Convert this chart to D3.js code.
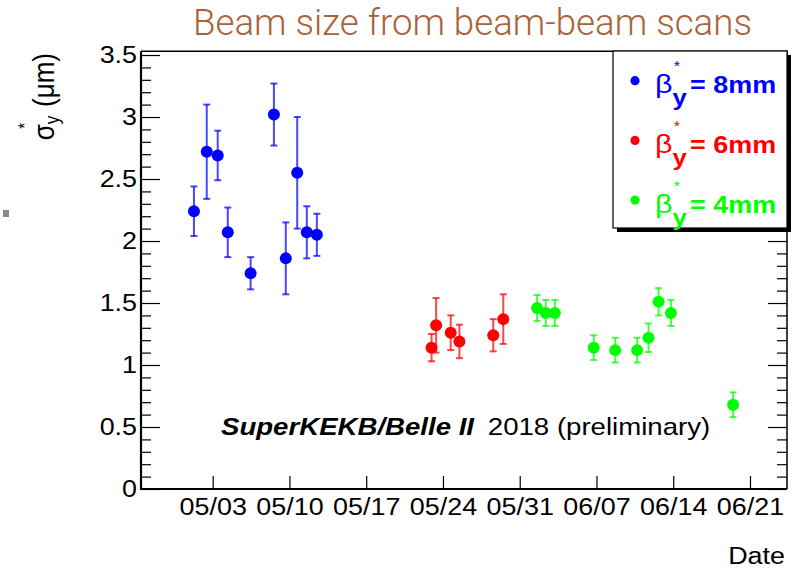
<!DOCTYPE html>
<html>
<head>
<meta charset="utf-8">
<script src="https://cdn.jsdelivr.net/npm/d3@7"></script>
<style>
  body { margin: 0; background: #fff; }
  svg { display: block; }
</style>
</head>
<body>
<svg id="chart" width="799" height="570"></svg>
<script>
// ---- data ---------------------------------------------------------------
const xTickLabels = ["05/03", "05/10", "05/17", "05/24", "05/31", "06/07", "06/14", "06/21"];
const yTickValues = [0, 0.5, 1, 1.5, 2, 2.5, 3, 3.5];
const yTickLabels = ["0", "0.5", "1", "1.5", "2", "2.5", "3", "3.5"];

// beta_y* = 8 mm
const blueDates = ["2018-05-01T07:00", "2018-05-02T11:00", "2018-05-03T11:00", "2018-05-04T09:00",
                   "2018-05-06T11:00", "2018-05-08T14:00", "2018-05-09T16:00", "2018-05-10T17:00",
                   "2018-05-11T14:00", "2018-05-12T12:00"];
const blueValues = [2.24, 2.72, 2.69, 2.07, 1.74, 3.02, 1.86, 2.55, 2.07, 2.05];
const blueErrors = [0.20, 0.38, 0.20, 0.20, 0.13, 0.25, 0.29, 0.45, 0.21, 0.17];

// beta_y* = 6 mm
const redDates = ["2018-05-22T23:00", "2018-05-23T09:00", "2018-05-24T17:00", "2018-05-25T12:00",
                  "2018-05-28T14:00", "2018-05-29T12:00"];
const redValues = [1.14, 1.32, 1.26, 1.19, 1.24, 1.37];
const redErrors = [0.11, 0.22, 0.14, 0.135, 0.13, 0.20];

// beta_y* = 4 mm
const greenDates = ["2018-06-01T14:00", "2018-06-02T09:00", "2018-06-03T05:00", "2018-06-06T18:00",
                    "2018-06-08T17:00", "2018-06-10T17:00", "2018-06-11T18:00", "2018-06-12T16:00",
                    "2018-06-13T19:00", "2018-06-19T11:00"];
const greenValues = [1.46, 1.42, 1.42, 1.14, 1.12, 1.12, 1.22, 1.51, 1.42, 0.68];
const greenErrors = [0.105, 0.105, 0.105, 0.10, 0.10, 0.10, 0.115, 0.11, 0.105, 0.10];

const seriesLabels = ["8mm", "6mm", "4mm"];
const seriesColors = ["#0000ff", "#ff0000", "#00ff00"];

// ---- layout -------------------------------------------------------------
const svg = d3.select("#chart");
const frame = { left: 141, right: 787, top: 51.3, bottom: 489 };
const stretch = 1.17;               // horizontal widening of the plot lettering
const font = "'Liberation Sans', Arial, Helvetica, sans-serif";

const parseT = d3.utcParse("%Y-%m-%dT%H:%M");
const x = d3.scaleUtc()
  .domain([parseT("2018-04-26T11:05"), parseT("2018-06-24T09:00")])
  .range([frame.left, frame.right]);
const y = d3.scaleLinear().domain([0, 3.53]).range([frame.bottom, frame.top]);

const series = [
  { dates: blueDates, values: blueValues, errors: blueErrors },
  { dates: redDates, values: redValues, errors: redErrors },
  { dates: greenDates, values: greenValues, errors: greenErrors }
].map((s, i) => ({
  label: seriesLabels[i],
  color: seriesColors[i],
  points: s.dates.map((d, j) => ({ t: parseT(d), v: s.values[j], e: s.errors[j] }))
}));

// ---- title --------------------------------------------------------------
svg.append("text")
  .attr("x", 193).attr("y", 35)
  .attr("font-family", "Roboto, 'Open Sans', sans-serif")
  .attr("font-weight", 300)
  .attr("font-size", 36)
  .attr("fill", "#a8633a")
  .attr("textLength", 559)
  .attr("lengthAdjust", "spacingAndGlyphs")
  .text("Beam size from beam-beam scans");

// small grey marker at the left margin
svg.append("rect").attr("x", 3).attr("y", 210).attr("width", 6).attr("height", 7).attr("fill", "#8a8a8a");

// ---- axes ---------------------------------------------------------------
const xTickValues = xTickLabels.map(s => parseT("2018-" + s.replace("/", "-") + "T00:00"));
const yMinor = d3.range(0, 3.5001, 0.1).filter(v => Math.abs(v * 2 - Math.round(v * 2)) > 1e-6);

function styleAxis(g) {
  g.select(".domain").remove();
  g.selectAll(".tick line").attr("stroke", "#000").attr("stroke-width", 1.2);
  g.selectAll("text")
    .attr("font-family", font).attr("font-size", 23).attr("fill", "#000")
    .attr("transform", `scale(${stretch},1)`);
}

// bottom axis
svg.append("g").attr("transform", `translate(0,${frame.bottom})`)
  .call(d3.axisBottom(x).tickValues(xTickValues).tickFormat((d, i) => xTickLabels[i])
    .tickSizeInner(-13).tickSizeOuter(0).tickPadding(10))
  .call(styleAxis)
  .selectAll("text").attr("x", 0);

// left axis, major + minor
svg.append("g").attr("transform", `translate(${frame.left},0)`)
  .call(d3.axisLeft(y).tickValues(yTickValues).tickFormat((d, i) => yTickLabels[i])
    .tickSizeInner(-19).tickSizeOuter(0).tickPadding(3.4))
  .call(styleAxis);
svg.append("g").attr("transform", `translate(${frame.left},0)`)
  .call(d3.axisLeft(y).tickValues(yMinor).tickFormat("").tickSizeInner(-10).tickSizeOuter(0))
  .call(styleAxis);

// right axis ticks (no labels)
svg.append("g").attr("transform", `translate(${frame.right},0)`)
  .call(d3.axisRight(y).tickValues(yTickValues).tickFormat("").tickSizeInner(-19).tickSizeOuter(0))
  .call(styleAxis);
svg.append("g").attr("transform", `translate(${frame.right},0)`)
  .call(d3.axisRight(y).tickValues(yMinor).tickFormat("").tickSizeInner(-10).tickSizeOuter(0))
  .call(styleAxis);

// frame
svg.append("path")
  .attr("d", `M${frame.left},${frame.top}H${frame.right}V${frame.bottom}`)
  .attr("fill", "none").attr("stroke", "#000").attr("stroke-width", 1.5);
svg.append("path")
  .attr("d", `M${frame.left},${frame.top}V${frame.bottom}H${frame.right}`)
  .attr("fill", "none").attr("stroke", "#000").attr("stroke-width", 2.2);

// axis titles
svg.append("g").attr("transform", `translate(785,564) scale(${stretch},1)`)
  .append("text").attr("text-anchor", "end")
  .attr("font-family", font).attr("font-size", 23).text("Date");

const yTitle = svg.append("g").attr("transform", `translate(54,53) rotate(-90) scale(1,${stretch})`)
  .append("text").attr("text-anchor", "end")
  .attr("font-family", font).attr("font-size", 26);
yTitle.append("tspan").text("σ");
yTitle.append("tspan").attr("font-size", 17).attr("dy", 4).text("y");
yTitle.append("tspan").attr("font-size", 15).attr("dx", -13).attr("dy", -24).text("*");
yTitle.append("tspan").attr("dx", 16).attr("dy", 20).text("(μm)");

// ---- data marks ---------------------------------------------------------
const capHalf = 3.5;
series.forEach(s => {
  const g = svg.append("g");
  const bars = g.selectAll("g.err").data(s.points).join("g").attr("class", "err")
    .attr("stroke", s.color).attr("stroke-width", 2).attr("stroke-opacity", 0.72);
  bars.append("line")
    .attr("x1", d => x(d.t)).attr("x2", d => x(d.t))
    .attr("y1", d => y(d.v + d.e)).attr("y2", d => y(d.v - d.e));
  bars.append("line")
    .attr("x1", d => x(d.t) - capHalf).attr("x2", d => x(d.t) + capHalf)
    .attr("y1", d => y(d.v + d.e)).attr("y2", d => y(d.v + d.e));
  bars.append("line")
    .attr("x1", d => x(d.t) - capHalf).attr("x2", d => x(d.t) + capHalf)
    .attr("y1", d => y(d.v - d.e)).attr("y2", d => y(d.v - d.e));
  g.selectAll("circle").data(s.points).join("circle")
    .attr("cx", d => x(d.t)).attr("cy", d => y(d.v)).attr("r", 6)
    .attr("fill", s.color);
});

// ---- annotation ---------------------------------------------------------
const note = svg.append("g").attr("transform", `translate(221,435) scale(1.15,1)`)
  .append("text").attr("font-family", font).attr("font-size", 24);
note.append("tspan").attr("font-weight", "bold").attr("font-style", "italic").text("SuperKEKB/Belle II");
note.append("tspan").attr("dx", 12).text("2018 (preliminary)");

// ---- legend -------------------------------------------------------------
const lg = { x: 613, y: 51, w: 174, h: 177 };
svg.append("rect").attr("x", lg.x + 4).attr("y", lg.y + 4).attr("width", lg.w).attr("height", lg.h).attr("fill", "#000");
svg.append("rect").attr("x", lg.x).attr("y", lg.y).attr("width", lg.w).attr("height", lg.h)
  .attr("fill", "#fff").attr("stroke", "#000").attr("stroke-width", 1.2);

series.forEach((s, i) => {
  const cy = 80.7 + i * 59.7;
  svg.append("circle").attr("cx", 635).attr("cy", cy).attr("r", 4.6).attr("fill", s.color);
  const t = svg.append("g").attr("transform", `translate(655,${cy + 12.5}) scale(${stretch},1)`)
    .append("text").attr("font-family", font).attr("fill", s.color);
  t.append("tspan").attr("x", 0).attr("y", 0).attr("font-size", 26).text("β");
  t.append("tspan").attr("x", 15).attr("y", 12).attr("font-size", 22).attr("font-weight", "bold").text("y");
  t.append("tspan").attr("x", 16).attr("y", -22).attr("font-size", 14).text("*");
  t.append("tspan").attr("x", 30).attr("y", 0).attr("font-size", 23).attr("font-weight", "bold")
    .text("= " + s.label);
});
</script>
</body>
</html>
